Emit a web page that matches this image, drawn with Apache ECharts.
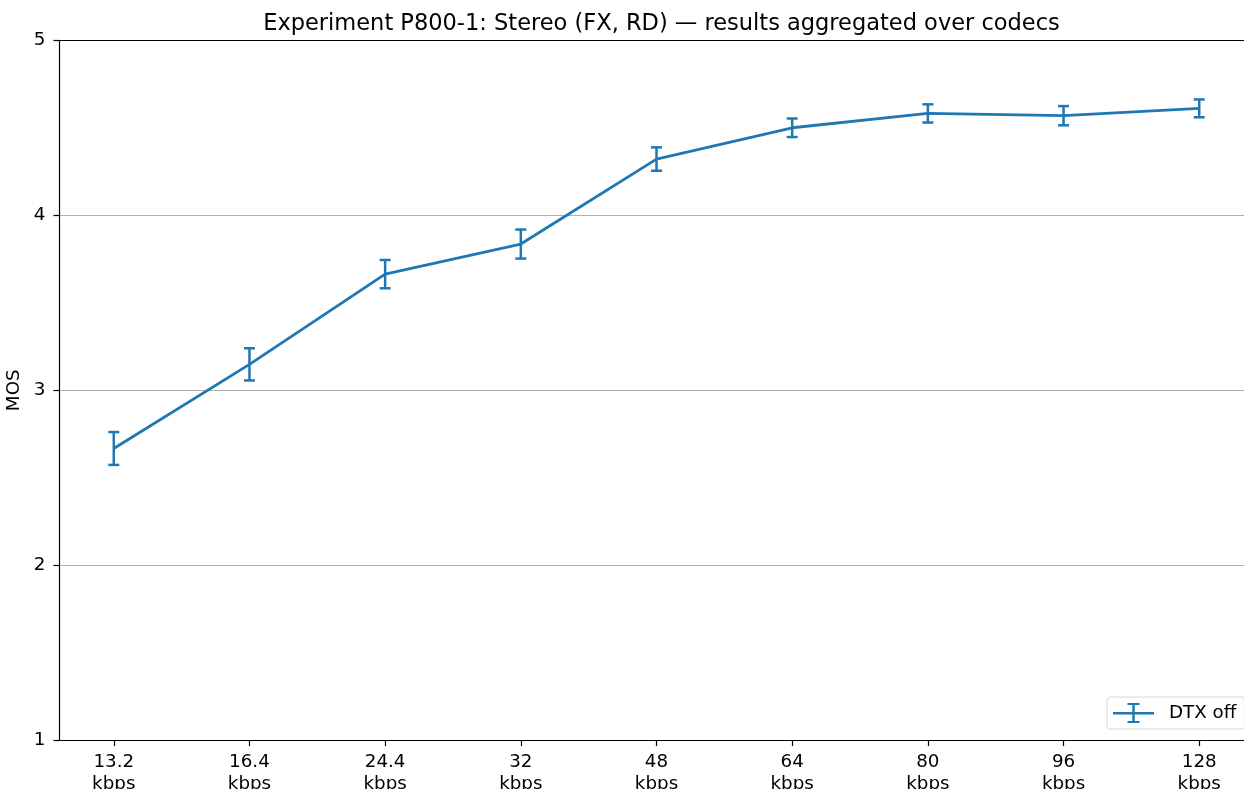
<!DOCTYPE html>
<html>
<head>
<meta charset="utf-8">
<style>
  html, body { margin: 0; padding: 0; background: #fff; }
  #chart { width: 1244px; height: 789px; }
</style>
<script src="https://cdn.jsdelivr.net/npm/echarts@6/dist/echarts.min.js"></script>
</head>
<body>
<div id="chart"></div>
<script>
// Bitrate categories (kbps) and mean opinion scores with 95% CI half-widths
const bitrates = ['13.2', '16.4', '24.4', '32', '48', '64', '80', '96', '128'];
const mosMean = [2.667, 3.148, 3.664, 3.836, 4.322, 4.501, 4.583, 4.570, 4.612];
const mosCi = [0.094, 0.092, 0.081, 0.083, 0.067, 0.053, 0.052, 0.055, 0.051];
const yTicks = [1, 2, 3, 4, 5];

const BLUE = '#1f77b4';
const FONT = 'DejaVu Sans';

const linePoints = mosMean.map((v, i) => [i, v]);
const barPoints = mosMean.map((v, i) => [i, v - mosCi[i], v + mosCi[i]]);
const tickPos = bitrates.map((_, i) => i);

const chart = echarts.init(document.getElementById('chart'), null, { renderer: 'canvas' });

chart.setOption({
  animation: false,
  backgroundColor: '#fff',
  title: {
    text: 'Experiment P800-1: Stereo (FX, RD) \u2014 results aggregated over codecs',
    left: 656.5,
    textAlign: 'center',
    top: 8,
    textStyle: { fontFamily: FONT, fontSize: 22.5, fontWeight: 'normal', color: '#000' }
  },
  grid: { left: 59.5, top: 40.5, right: 0, bottom: 49, containLabel: false, outerBoundsMode: 'none' },
  legend: {
    data: [{ name: 'DTX off' }],
    left: 1107,
    top: 697,
    orient: 'horizontal',
    padding: [6, 8, 6, 6],
    itemWidth: 41,
    itemHeight: 20,
    borderColor: '#d6d6d6',
    borderWidth: 1,
    borderRadius: 3,
    backgroundColor: 'rgba(255,255,255,0.85)',
    icon: 'path://M0,9 L41,9 L41,11.5 L0,11.5 Z M19.3,1 L21.7,1 L21.7,19 L19.3,19 Z M14.5,0 L26.5,0 L26.5,2 L14.5,2 Z M14.5,18 L26.5,18 L26.5,20 L14.5,20 Z',
    textStyle: { fontFamily: FONT, fontSize: 18.3, color: '#000', padding: [0, 0, 0, 10] }
  },
  xAxis: [
    {
      type: 'value',
      min: -0.4,
      max: 8.33,
      position: 'bottom',
      axisLine: { show: true, onZero: false, lineStyle: { color: '#000', width: 1.2 } },
      axisTick: { show: true, customValues: tickPos, length: 6, lineStyle: { color: '#000', width: 1.2 } },
      axisLabel: {
        show: true,
        customValues: tickPos,
        formatter: v => bitrates[Math.round(v)] + '\nkbps',
        fontFamily: FONT,
        fontSize: 18.3,
        color: '#000',
        lineHeight: 22,
        margin: 11
      },
      splitLine: { show: false }
    },
    {
      type: 'value',
      min: -0.4,
      max: 8.33,
      position: 'top',
      axisLine: { show: true, onZero: false, lineStyle: { color: '#000', width: 1.2 } },
      axisTick: { show: false },
      axisLabel: { show: false },
      splitLine: { show: false }
    }
  ],
  yAxis: {
    type: 'value',
    min: yTicks[0],
    max: yTicks[yTicks.length - 1],
    interval: 1,
    name: 'MOS',
    nameLocation: 'middle',
    nameGap: 32,
    nameRotate: 90,
    nameTextStyle: { fontFamily: FONT, fontSize: 18.3, color: '#000' },
    axisLine: { show: true, onZero: false, lineStyle: { color: '#000', width: 1.2 } },
    axisTick: { show: true, length: 6, lineStyle: { color: '#000', width: 1.2 } },
    axisLabel: { fontFamily: FONT, fontSize: 18.3, color: '#000', margin: 14 },
    splitLine: { show: true, lineStyle: { color: '#b0b0b0', width: 1.2 } }
  },
  series: [
    {
      name: 'DTX off',
      type: 'line',
      data: linePoints,
      symbol: 'none',
      lineStyle: { color: BLUE, width: 2.8 },
      itemStyle: { color: BLUE },
      z: 3
    },
    {
      name: 'DTX off',
      type: 'custom',
      data: barPoints,
      encode: { x: 0, y: [1, 2] },
      z: 4,
      renderItem: function (params, api) {
        const x = api.value(0);
        const lo = api.coord([x, api.value(1)]);
        const hi = api.coord([x, api.value(2)]);
        const cap = 5.5;
        const style = { stroke: BLUE, lineWidth: 2.5, fill: null };
        return {
          type: 'group',
          children: [
            { type: 'line', shape: { x1: lo[0], y1: lo[1], x2: hi[0], y2: hi[1] }, style: style },
            { type: 'line', shape: { x1: lo[0] - cap, y1: lo[1], x2: lo[0] + cap, y2: lo[1] }, style: style },
            { type: 'line', shape: { x1: hi[0] - cap, y1: hi[1], x2: hi[0] + cap, y2: hi[1] }, style: style }
          ]
        };
      }
    }
  ]
});
</script>
</body>
</html>
